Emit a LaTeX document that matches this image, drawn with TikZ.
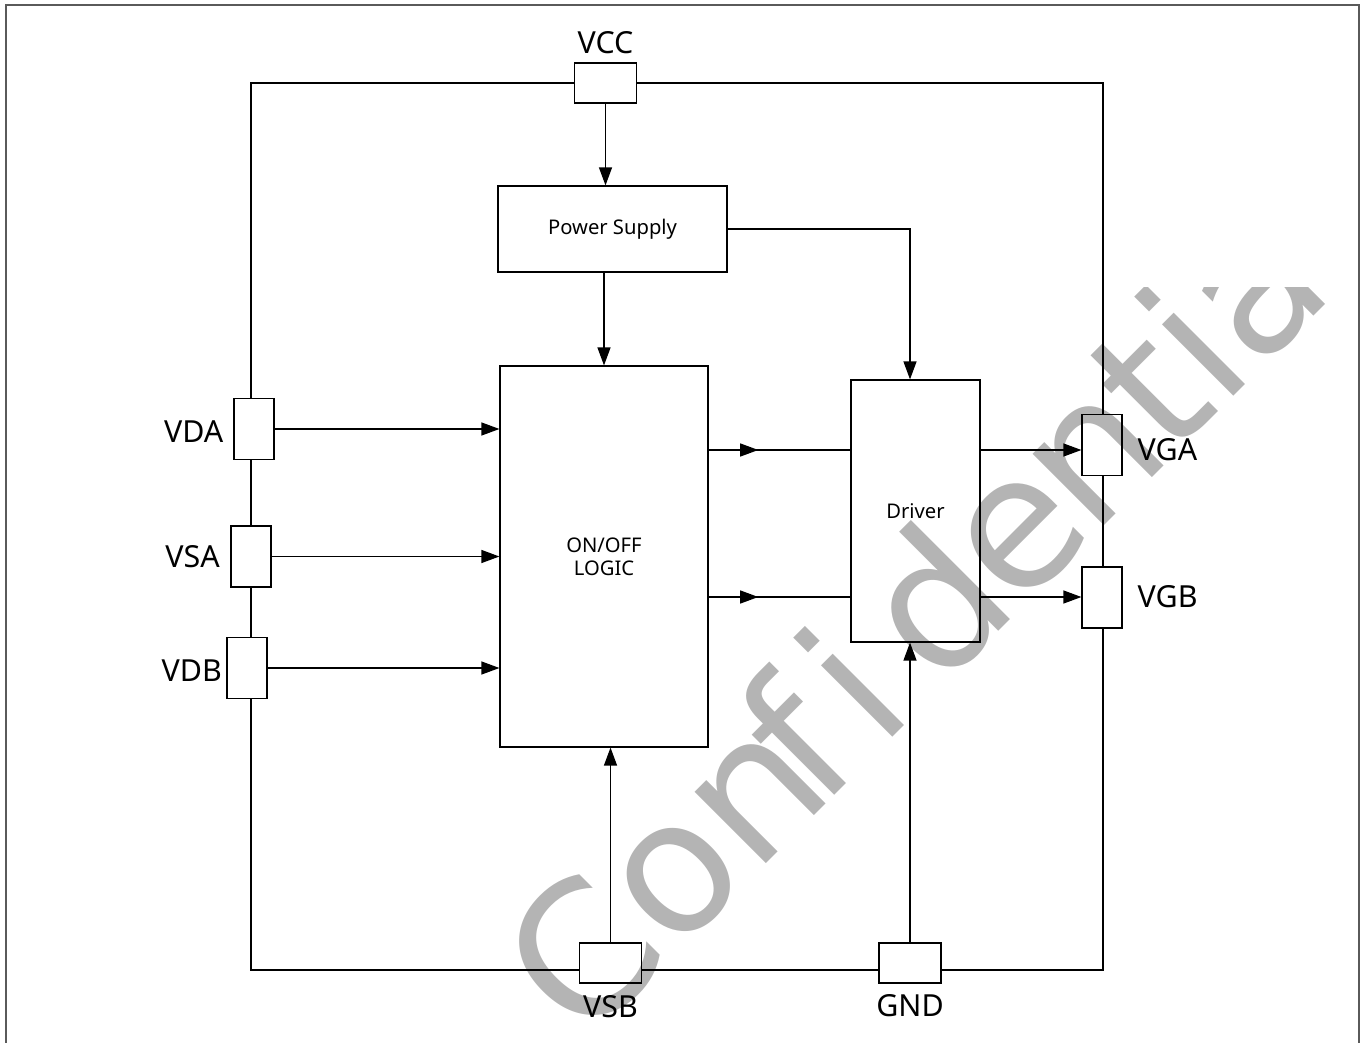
\documentclass[tikz,border=0pt]{standalone}
\usepackage{fontspec}
\setmainfont{Noto Sans}
\newfontfamily\wmfont{DejaVu Sans}
\usetikzlibrary{arrows.meta,positioning,decorations.markings}
\definecolor{framegray}{RGB}{90,90,90}
\definecolor{wmgray}{RGB}{180,180,180}

\begin{document}
\begin{tikzpicture}[
  x=0.02cm, y=-0.02cm,
  line width=0.7pt,
  box/.style={draw, align=center, inner sep=0pt, font=\fontsize{11.5}{13.1}\selectfont},
  pinv/.style={draw, minimum width=0.8cm, minimum height=1.22cm, inner sep=0pt},
  pinh/.style={draw, minimum width=1.24cm, minimum height=0.8cm, inner sep=0pt},
  pinlabel/.style={inner sep=0pt, font=\fontsize{17.3}{20}\selectfont},
  arrow/.style={-{Triangle[length=3.6mm,width=2.6mm]}},
  midarrow/.style={postaction={decorate}, decoration={markings,
    mark=at position #1 with {\arrow{Triangle[length=3.6mm,width=2.6mm]}}}},
  wmark/.style={text=wmgray, font=\wmfont\fontsize{105}{110}\selectfont,
    rotate=45, inner sep=0pt, anchor=base west}
]
\useasboundingbox (0,0) rectangle (1361,1043);

% watermark
\begin{scope}
  \clip (0,288) rectangle (1361,1043);
  \node[wmark] (wm) at (583,1047)
    {Con\kern-13.7pt f\kern11.4pt i\kern18.8pt d\kern-4pt e\kern-4pt n\kern-4pt tial};
\end{scope}

% page frame
\draw[framegray, line width=0.85pt] (6,1060) -- (6,5) -- (1359,5) -- (1359,1060);

% blocks
\node[box, minimum width=4.58cm, minimum height=1.72cm] (ps) at (612.5,229) {Power Supply};
\node[box, minimum width=4.16cm, minimum height=7.62cm] (logic) at (604,556.5) {ON/OFF\\LOGIC};
\node[box, minimum width=2.58cm, minimum height=5.24cm] (drv) at (915.5,511) {Driver};

% pins
\node[pinh] (vcc) at (605.5,83) {};
\node[pinv] (vda) at (254,429) {};
\node[pinv] (vsa) at (251,556.5) {};
\node[pinv] (vdb) at (247,668) {};
\node[pinv] (vga) at (1102,445) {};
\node[pinv] (vgb) at (1102,597.5) {};
\node[pinh] (vsb) at (610.5,963) {};
\node[pinh] (gnd) at (910,963) {};

\coordinate (ya) at (0,450);
\coordinate (yb) at (0,597);

\node[pinlabel, above=0.16cm of vcc] (vcclbl) {VCC};
\node[pinlabel, left=0.19cm of vda, yshift=-0.05cm] (vdalbl) {VDA};
\node[pinlabel, left=0.2cm of vsa] (vsalbl) {VSA};
\node[pinlabel, left=0.08cm of vdb, yshift=-0.05cm] (vdblbl) {VDB};
\node[pinlabel, anchor=west] (vgalbl) at ([xshift=0.29cm]vga.east |- ya) {VGA};
\node[pinlabel, anchor=west] (vgblbl) at ([xshift=0.29cm]vgb.east |- yb) {VGB};
\node[pinlabel, below=0.22cm of vsb] (vsblbl) {VSB};
\node[pinlabel, below=0.2cm of gnd] (gndlbl) {GND};

% package outline
\coordinate (ctl) at (251,83);
\coordinate (ctr) at (1103,83);
\coordinate (cbl) at (251,970);
\coordinate (cbr) at (1103,970);
\draw (vcc.west) -- (ctl) -- (ctl |- vda.north);
\draw (ctl |- vda.south) -- (ctl |- vsa.north);
\draw (ctl |- vsa.south) -- (ctl |- vdb.north);
\draw (ctl |- vdb.south) -- (cbl) -- (cbl -| vsb.west);
\draw (cbl -| vsb.east) -- (cbl -| gnd.west);
\draw (cbl -| gnd.east) -- (cbr) -- (ctr |- vgb.south);
\draw (ctr |- vgb.north) -- (ctr |- vga.south);
\draw (ctr |- vga.north) -- (ctr) -- (vcc.east);

% signals
\draw[arrow] (vcc.south) -- (vcc.south |- ps.north);
\draw[arrow] (logic.north |- ps.south) -- (logic.north);
\draw[arrow] (ps.east) -| (gnd.north |- drv.north);
\draw[arrow] (vda.east) -- (vda.east -| logic.west);
\draw[arrow] (vsa.east) -- (vsa.east -| logic.west);
\draw[arrow] (vdb.east) -- (vdb.east -| logic.west);
\draw[midarrow=0.35] (logic.east |- ya) -- (drv.west |- ya);
\draw[midarrow=0.35] (logic.east |- yb) -- (drv.west |- yb);
\draw[arrow] (drv.east |- ya) -- (vga.west |- ya);
\draw[arrow] (drv.east |- yb) -- (vgb.west |- yb);
\draw[arrow] (vsb.north) -- (vsb.north |- logic.south);
\draw[arrow] (gnd.north) -- (gnd.north |- drv.south);
\end{tikzpicture}
\end{document}
